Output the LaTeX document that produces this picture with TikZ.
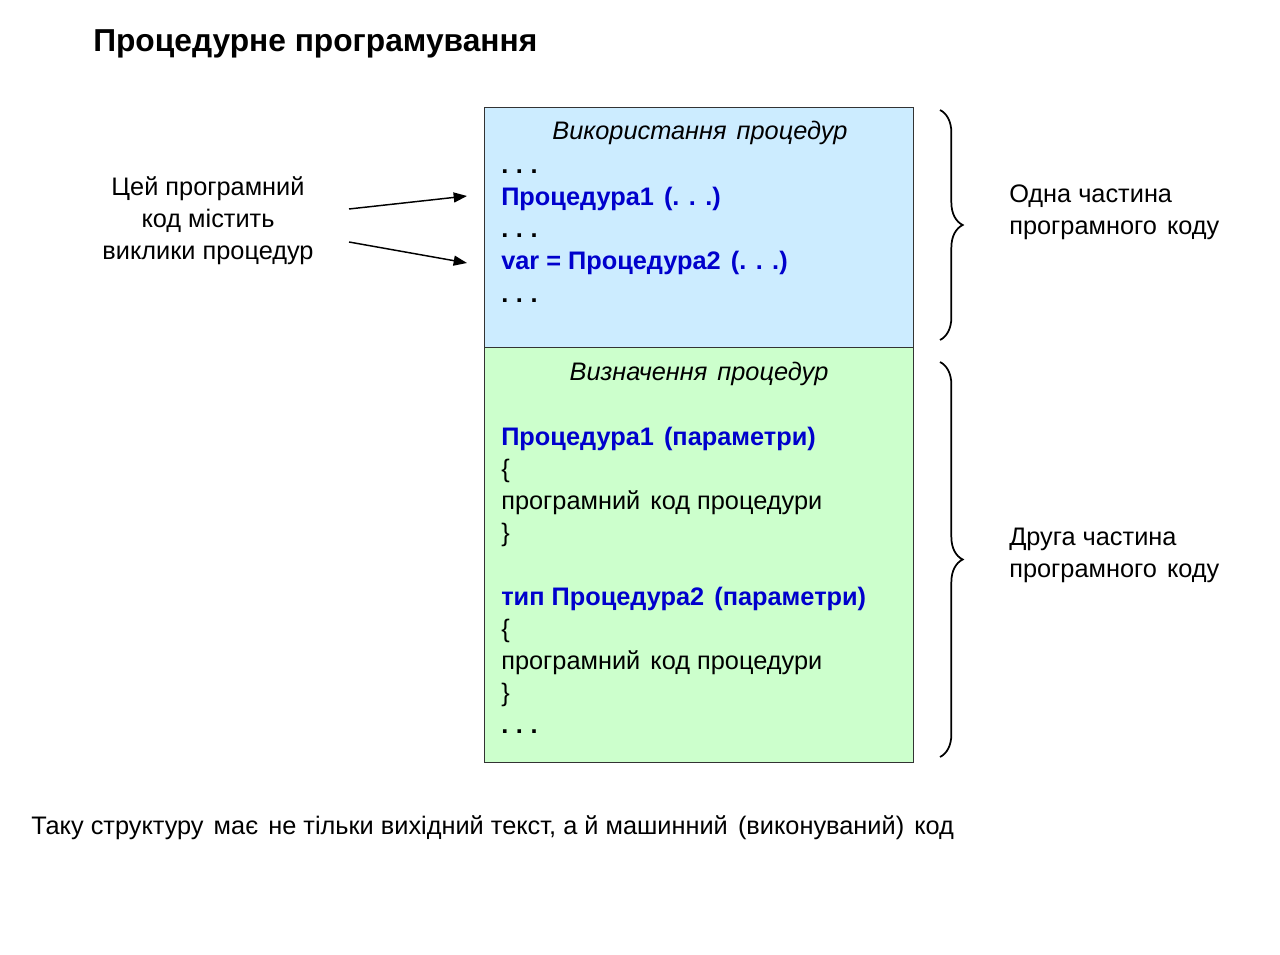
\documentclass[tikz,border=0pt]{standalone}
\usepackage{fontspec}
\setmainfont{Liberation Sans}
\usetikzlibrary{arrows.meta,decorations.pathreplacing}
\definecolor{useblue}{RGB}{204,236,255}
\definecolor{defgreen}{RGB}{204,255,204}
\definecolor{codeblue}{RGB}{0,0,204}
\newcommand{\gap}{\hspace{0.4em}}
\newcommand{\etc}{\textbf{.\hspace{0.3em}.\hspace{0.3em}.}}
\tikzset{
  txt/.style={anchor=base west,inner sep=0pt,font=\fontsize{19}{24}\selectfont},
  code/.style={txt,text=codeblue,font=\fontsize{19}{24}\selectfont\bfseries},
  head/.style={anchor=base,inner sep=0pt,font=\fontsize{19}{24}\selectfont\itshape},
  note/.style={anchor=base,inner sep=0pt,font=\fontsize{19}{24}\selectfont},
  part/.style={draw=black!80,line width=0.75pt,inner sep=0pt,anchor=north west},
  callarrow/.style={-{Triangle[length=10pt,width=7.5pt]},line width=1.1pt},
  curly/.style={decorate,decoration={brace,amplitude=17pt},line width=1.3pt}
}
\begin{document}
\begin{tikzpicture}[x=0.75pt,y=-0.75pt]
  \useasboundingbox (0,0) rectangle (1280,955);
  \node (title) [anchor=base west,inner sep=0pt,font=\fontsize{23.8}{28}\selectfont\bfseries]
    at (93,52) {Процедурне програмування};

  % the two parts of the code
  \node (use) [part,fill=useblue,minimum width=321.75pt,minimum height=180pt] at (484,107) {};
  \node (def) [part,fill=defgreen,minimum width=321.75pt,minimum height=311.25pt] at (484,347) {};

  \node (usehead) [head] at (700,140) {Використання\gap процедур};
  \node (use1) [txt] at (501,174) {\etc};
  \node (use2) [code] at (501,206) {Процедура1\gap (. . .)};
  \node (use3) [txt] at (501,238) {\etc};
  \node (use4) [code] at (501,270) {var = Процедура2\gap (. . .)};
  \node (use5) [txt] at (501,302) {\etc};

  \node (defhead) [head] at (699,380) {Визначення\gap процедур};
  \node (def1) [code] at (501,445) {Процедура1\gap (параметри)};
  \node (def2) [txt] at (501,477) {\{};
  \node (def3) [txt] at (501,509) {програмний\gap код процедури};
  \node (def4) [txt] at (501,541) {\}};
  \node (def5) [code] at (501,605) {тип Процедура2\gap (параметри)};
  \node (def6) [txt] at (501,637) {\{};
  \node (def7) [txt] at (501,669) {програмний\gap код процедури};
  \node (def8) [txt] at (501,701) {\}};
  \node (def9) [txt] at (501,733) {\etc};

  % calls
  \node (call1) [note] at (208,196) {Цей програмний};
  \node (call2) [note] at (208,228) {код містить};
  \node (call3) [note] at (208,260) {виклики процедур};
  \coordinate (from1) at (349,209);
  \coordinate (to1) at (467,196);
  \coordinate (from2) at (349,242);
  \coordinate (to2) at (467,263);
  \draw[callarrow] (from1) -- (to1);
  \draw[callarrow] (from2) -- (to2);

  % braces
  \coordinate (br1a) at (940,110);
  \coordinate (br1b) at (940,340);
  \coordinate (br2a) at (940,362);
  \coordinate (br2b) at (940,757);
  \draw[curly] (br1a) -- (br1b);
  \draw[curly] (br2a) -- (br2b);
  \node (one1) [txt] at (1009,203) {Одна частина};
  \node (one2) [txt] at (1009,235) {програмного\gap коду};
  \node (two1) [txt] at (1009,545) {Друга частина};
  \node (two2) [txt] at (1009,577) {програмного\gap коду};

  \node (footer) [txt] at (31,834)
    {Таку структуру\gap має\gap не тільки вихідний текст, а й машинний\gap (виконуваний)\gap код};
\end{tikzpicture}
\end{document}
